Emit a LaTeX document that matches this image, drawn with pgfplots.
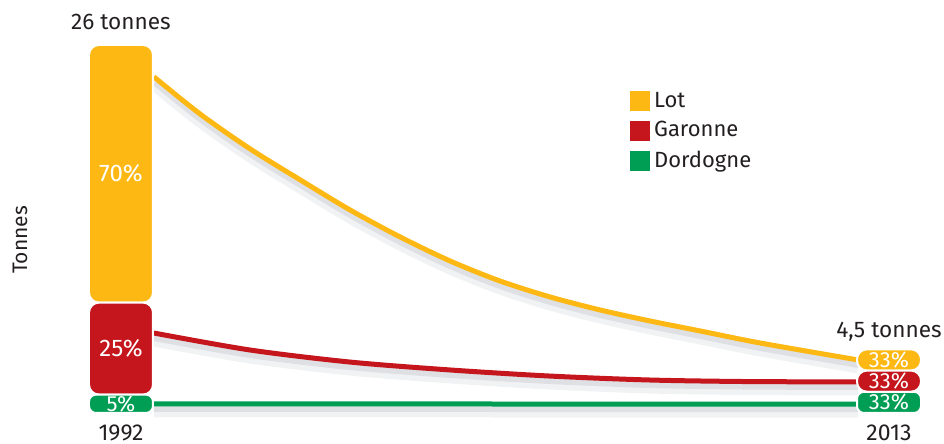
\documentclass[border=0pt]{standalone}
\usepackage{pgfplots}
\pgfplotsset{compat=1.18}
\usepackage{fontspec}
\setmainfont{Fira Sans}
\definecolor{lot}{RGB}{253,184,19}
\definecolor{garonne}{RGB}{196,22,28}
\definecolor{dordogne}{RGB}{0,158,84}
\definecolor{txt}{RGB}{35,31,32}
\definecolor{shd}{RGB}{120,128,145}
\pgfplotsset{
  base/.style={
    scale only axis, width=425pt, height=184pt,
    xmin=1990.879, xmax=2014.121, ymin=0, ymax=26,
    clip=false,
  },
  shadowA/.style={shd, opacity=0.10, line width=6.5pt, yshift=-3.5pt, forget plot},
  shadowB/.style={shd, opacity=0.16, line width=3pt, yshift=-2.5pt, forget plot},
}
\tikzset{pct/.style={text=white, font=\fontsize{12}{14}\selectfont}}
\begin{document}
\begin{tikzpicture}
% lines, ticks, legend
\begin{axis}[
  base,
  axis line style={draw=none},
  tick style={draw=none},
  ytick=\empty,
  xtick={1992,2013}, xticklabels={1992,2013},
  xticklabel style={font=\fontsize{11.5}{13}\selectfont, text=txt, yshift=-2.5pt},
  ylabel={Tonnes},
  ylabel style={at={(rel axis cs:-0.0706,0.47)}, anchor=center,
    font=\fontsize{10.5}{12}\selectfont, text=txt},
  legend style={at={(rel axis cs:0.6397,0.895)}, anchor=north west, draw=none,
    fill=none, font=\fontsize{11}{13}\selectfont, text=txt, row sep=1.6pt},
  legend cell align=left,
  legend image code/.code={\fill[#1, draw=none] (-3pt,-5pt) rectangle (7pt,5pt);},
]
% shadows
\addplot[shadowA, smooth] coordinates {(1992.90,23.75) (1994.16,21.13) (1995.53,18.66) (1996.90,16.47) (1998.26,14.35) (1999.63,12.44) (2001.00,10.74) (2002.36,9.33) (2003.73,8.20) (2005.10,7.28) (2006.47,6.50) (2007.83,5.80) (2009.47,4.95) (2012.15,3.75)};
\addplot[shadowB, smooth] coordinates {(1992.90,23.75) (1994.16,21.13) (1995.53,18.66) (1996.90,16.47) (1998.26,14.35) (1999.63,12.44) (2001.00,10.74) (2002.36,9.33) (2003.73,8.20) (2005.10,7.28) (2006.47,6.50) (2007.83,5.80) (2009.47,4.95) (2012.15,3.75)};
\addplot[shadowA, smooth] coordinates {(1992.90,5.65) (1995.53,4.45) (1998.26,3.60) (2001.00,3.04) (2003.73,2.61) (2006.47,2.33) (2009.20,2.22) (2012.15,2.20)};
\addplot[shadowB, smooth] coordinates {(1992.90,5.65) (1995.53,4.45) (1998.26,3.60) (2001.00,3.04) (2003.73,2.61) (2006.47,2.33) (2009.20,2.22) (2012.15,2.20)};
\addplot[shadowA] coordinates {(1992.90,0.65) (2012.15,0.62)};
\addplot[shadowB] coordinates {(1992.90,0.65) (2012.15,0.62)};
% curves
\addplot[lot, line width=2.5pt, smooth, forget plot] coordinates {(1992.90,23.75) (1994.16,21.13) (1995.53,18.66) (1996.90,16.47) (1998.26,14.35) (1999.63,12.44) (2001.00,10.74) (2002.36,9.33) (2003.73,8.20) (2005.10,7.28) (2006.47,6.50) (2007.83,5.80) (2009.47,4.95) (2012.15,3.75)};
\addplot[garonne, line width=2.5pt, smooth, forget plot] coordinates {(1992.90,5.65) (1995.53,4.45) (1998.26,3.60) (2001.00,3.04) (2003.73,2.61) (2006.47,2.33) (2009.20,2.22) (2012.15,2.20)};
\addplot[dordogne, line width=2.5pt, forget plot] coordinates {(1992.90,0.65) (2012.15,0.62)};
\addlegendimage{fill=lot}
\addlegendimage{fill=garonne}
\addlegendimage{fill=dordogne}
\legend{Lot,Garonne,Dordogne}
\end{axis}
% stacked bars
\begin{axis}[
  base, hide axis,
  ybar stacked, bar width=32pt,
]
\addplot[fill=dordogne, draw=white, line width=1pt, rounded corners=3.5pt] coordinates {(1992,1.3) (2013,1.5)};
\addplot[fill=garonne, draw=white, line width=1pt, rounded corners=5pt] coordinates {(1992,6.5) (2013,1.5)};
\addplot[fill=lot, draw=white, line width=1pt, rounded corners=5pt] coordinates {(1992,18.2) (2013,1.5)};
\end{axis}
% labels
\begin{axis}[base, hide axis]
\node[pct] at (axis cs:1992,16.9) {70\%};
\node[pct] at (axis cs:1992,4.55) {25\%};
\node[pct, font=\fontsize{11}{12}\selectfont] at (axis cs:1992,0.65) {5\%};
\node[pct, font=\fontsize{11}{12}\selectfont] at (axis cs:2013,3.75) {33\%};
\node[pct, font=\fontsize{11}{12}\selectfont] at (axis cs:2013,2.25) {33\%};
\node[pct, font=\fontsize{11}{12}\selectfont] at (axis cs:2013,0.75) {33\%};
\node[anchor=base, yshift=7.5pt, text=txt, font=\fontsize{11.3}{13}\selectfont] at (axis cs:1992,26) {26 tonnes};
\node[anchor=base, yshift=6pt, text=txt, font=\fontsize{11.3}{13}\selectfont] at (axis cs:2013,4.5) {4,5 tonnes};
\end{axis}
\pgfresetboundingbox
\path (-40pt,-15.5pt) rectangle (432pt,206.5pt);
\end{tikzpicture}
\end{document}
